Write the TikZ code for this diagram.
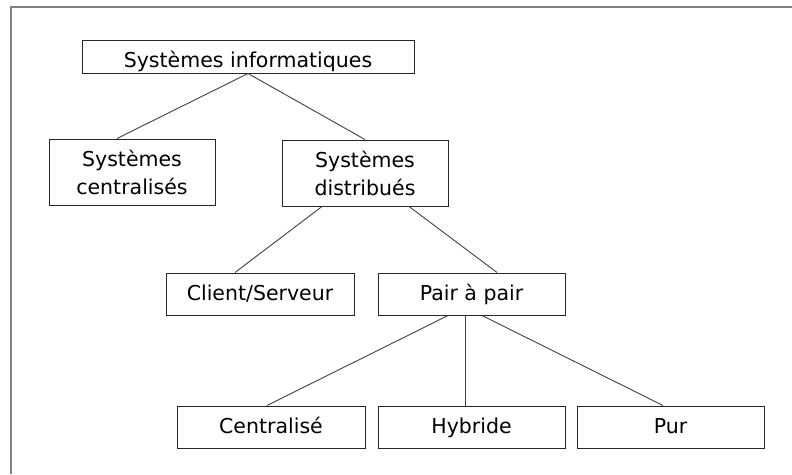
\documentclass[tikz,border=0pt]{standalone}
\usepackage{fontspec}
\setmainfont{DejaVu Sans}
\usetikzlibrary{calc}
\definecolor{framegray}{HTML}{7F7F7F}
\definecolor{linegray}{HTML}{404040}
\begin{document}
\begin{tikzpicture}[x=1pt,y=-1pt,
  box/.style={draw=black!85,line width=1pt,fill=white,inner sep=0pt,align=center,
    font=\fontsize{20.5}{27.6}\selectfont,text height=15pt,text depth=3pt},
  lowtext/.style={text height=21pt,text depth=0pt},
  twoline/.style={text height=44.6pt,text depth=0pt},
  link/.style={draw=linegray,line width=0.9pt}]
\useasboundingbox (0,0) rectangle (792,474);
\draw[framegray,line width=1.5pt] (11,474) -- (11,7) -- (792,7);
\node[box,lowtext,minimum width=332pt,minimum height=33pt] (info) at (248,56.5) {Systèmes informatiques};
\node[box,twoline,minimum width=166pt,minimum height=66pt] (cent) at (132,172) {Systèmes\\centralisés};
\node[box,twoline,minimum width=166pt,minimum height=66pt] (dist) at (365,173) {Systèmes\\distribués};
\node[box,minimum width=188pt,minimum height=42pt] (cs) at (260,294) {Client/Serveur};
\node[box,minimum width=187pt,minimum height=42pt] (pair) at (471.5,294) {Pair à pair};
\node[box,minimum width=188pt,minimum height=42pt] (centr) at (271,427) {Centralisé};
\node[box,minimum width=187pt,minimum height=42pt] (hyb) at (471.5,427) {Hybride};
\node[box,minimum width=187pt,minimum height=42pt] (pur) at (670.5,427) {Pur};
\draw[link] (info.south) -- ($(cent.north)+(-15,0)$);
\draw[link] (info.south) -- (dist.north);
\draw[link] ($(dist.south)+(-43,0)$) -- ($(cs.north)+(-25,0)$);
\draw[link] ($(dist.south)+(44,0)$) -- ($(pair.north)+(25.5,0)$);
\draw[link] ($(pair.south)+(-23.5,0)$) -- ($(centr.north)+(-4,0)$);
\draw[link] ($(pair.south)+(-6.5,0)$) -- ($(hyb.north)+(-6.5,0)$);
\draw[link] ($(pair.south)+(10.5,0)$) -- ($(pur.north)+(-7.5,0)$);
\end{tikzpicture}
\end{document}
